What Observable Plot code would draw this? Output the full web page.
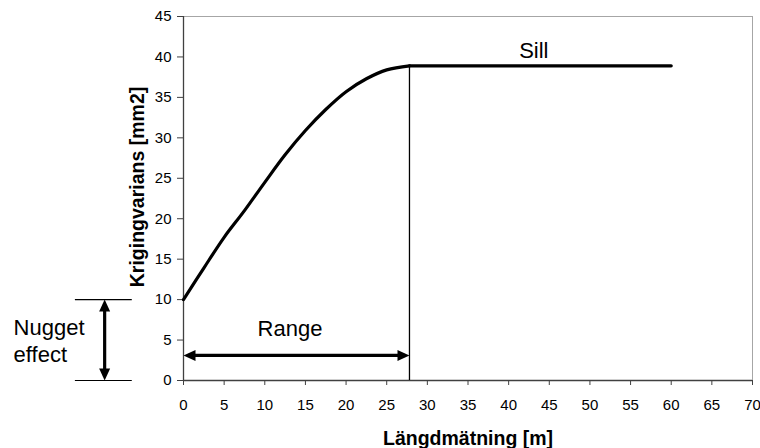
<!DOCTYPE html>
<html><head><meta charset="utf-8">
<script src="https://cdn.jsdelivr.net/npm/d3@7"></script>
<script src="https://cdn.jsdelivr.net/npm/@observablehq/plot@0.6"></script>
<style>body{margin:0;background:#fff}</style>
</head><body><div id="chart"></div>
<script>
// Data
const distance = [0, 2.5, 5, 7.5, 10, 12.5, 15, 17.5, 20, 22.5, 25, 27.8];
const variance = [10, 13.9, 17.7, 21.0, 24.5, 27.9, 30.9, 33.5, 35.7, 37.3, 38.4, 38.9];
const sillDistance = [27.8, 60];
const sillValue = 38.9;
const rangeValue = 27.8;
const nuggetValue = 10;
const xTicks = [0, 5, 10, 15, 20, 25, 30, 35, 40, 45, 50, 55, 60, 65, 70];
const yTicks = [0, 5, 10, 15, 20, 25, 30, 35, 40, 45];
const xLabel = "Längdmätning [m]";
const yLabel = "Krigingvarians [mm2]";
const annotationText = ["Sill", "Range", "Nugget\neffect"];
const annotationX = [43.1, 13.1, -20.9];
const annotationY = [39.9, 5.5, 2.3];
const rangeArrowY = 3.1;
const nuggetArrowX = -9.7;
const nuggetLineX = [-13.3, -6.3];

const curve = distance.map((d, i) => ({x: d, y: variance[i]}));
const sill = sillDistance.map(d => ({x: d, y: sillValue}));
const annotations = annotationText.map((t, i) => ({text: t, x: annotationX[i], y: annotationY[i]}));

// arrowhead symbol: tip at origin, pointing up
const head = {draw(ctx) { ctx.moveTo(0, 0); ctx.lineTo(-5.5, 12); ctx.lineTo(5.5, 12); ctx.closePath(); }};

const font = "Liberation Sans, Arial, sans-serif";

const chart = Plot.plot({
  width: 760, height: 448,
  marginLeft: 183, marginRight: 8, marginTop: 16, marginBottom: 68,
  style: {fontFamily: font, fontSize: "15px", color: "#000", background: "#fff"},
  x: {domain: [0, 70]},
  y: {domain: [0, 45]},
  marks: [
    Plot.frame({stroke: "#a6a6a6"}),
    Plot.ruleX([0], {stroke: "#404040", strokeWidth: 1.3}),
    Plot.ruleY([0], {stroke: "#404040", strokeWidth: 1.3}),
    Plot.axisX({ticks: xTicks, tickSize: 5, tickPadding: 14, fontSize: 15, label: null, stroke: "#404040"}),
    Plot.axisY({ticks: yTicks, tickSize: 6, tickPadding: 6, fontSize: 15, label: null, stroke: "#404040"}),
    // range vertical line
    Plot.ruleX([{x: rangeValue, y1: 0, y2: sillValue}], {x: "x", y1: "y1", y2: "y2", stroke: "black", strokeWidth: 1.3}),
    // curve
    Plot.line(curve, {x: "x", y: "y", curve: "catmull-rom", stroke: "black", strokeWidth: 3.2}),
    Plot.line(sill, {x: "x", y: "y", stroke: "black", strokeWidth: 3.2}),
    // range arrow
    Plot.arrow([{x1: 0, x2: rangeValue, y: rangeArrowY}], {x1: "x1", x2: "x2", y1: "y", y2: "y", headLength: 0, insetStart: 5, insetEnd: 5, stroke: "black", strokeWidth: 3.2, strokeLinecap: "butt"}),
    Plot.dot([{x: 0, y: rangeArrowY, r: -90}, {x: rangeValue, y: rangeArrowY, r: 90}], {x: "x", y: "y", rotate: "r", symbol: head, r: 5, fill: "black", stroke: "none"}),
    // nugget arrow & lines
    Plot.arrow([{x: nuggetArrowX, y1: 0, y2: nuggetValue}], {x1: "x", x2: "x", y1: "y1", y2: "y2", headLength: 0, insetStart: 5, insetEnd: 5, stroke: "black", strokeWidth: 3.2, strokeLinecap: "butt"}),
    Plot.dot([{x: nuggetArrowX, y: nuggetValue, r: 0}, {x: nuggetArrowX, y: 0, r: 180}], {x: "x", y: "y", rotate: "r", symbol: head, r: 5, fill: "black", stroke: "none"}),
    Plot.ruleY([{y: 0}, {y: nuggetValue}], {y: "y", x1: () => nuggetLineX[0], x2: () => nuggetLineX[1], stroke: "black", strokeWidth: 1.2}),
    // annotations
    Plot.text(annotations.slice(0, 2), {x: "x", y: "y", text: "text", fontSize: 22, lineAnchor: "bottom", textAnchor: "middle", fill: "black"}),
    Plot.text(annotations.slice(2), {x: "x", y: "y", text: "text", fontSize: 22, lineAnchor: "bottom", textAnchor: "start", lineHeight: 1.21, fill: "black"}),
    // axis titles
    Plot.text([xLabel], {frameAnchor: "bottom", dy: 64, text: d => d, fontSize: 19.5, fontWeight: "bold", lineAnchor: "bottom", textAnchor: "middle", fill: "black"}),
    Plot.text([yLabel], {frameAnchor: "left", dx: -40, dy: -11.5, rotate: -90, text: d => d, fontSize: 19.5, fontWeight: "bold", lineAnchor: "bottom", textAnchor: "middle", fill: "black"})
  ]
});
document.getElementById("chart").append(chart);
</script>
</body></html>
